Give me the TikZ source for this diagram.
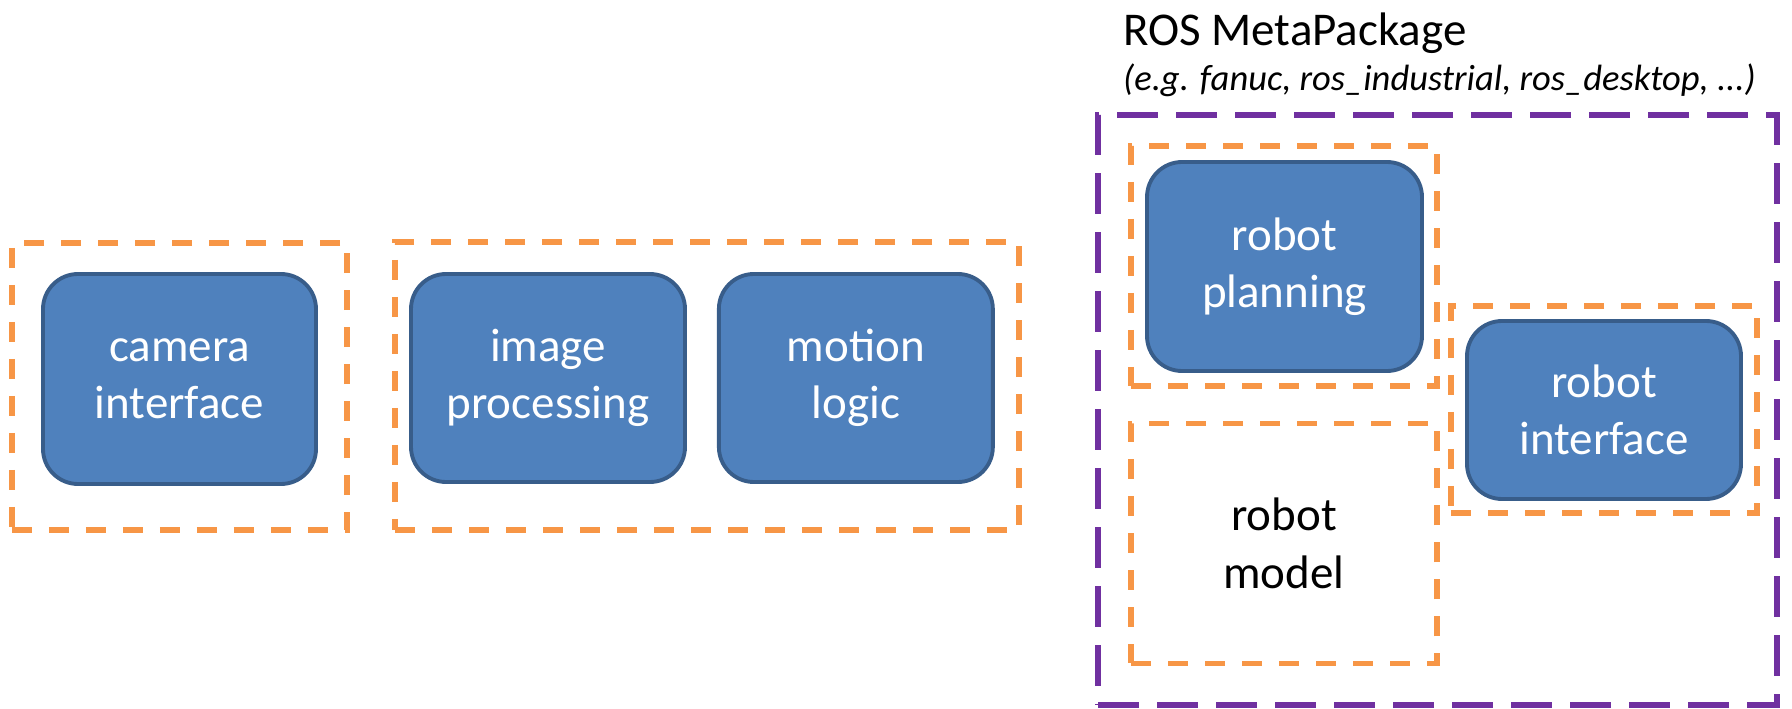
\documentclass[tikz,border=0pt]{standalone}
\usepackage{fontspec}
\setmainfont{Carlito}
\usetikzlibrary{positioning}
\definecolor{nodeblue}{HTML}{4F81BD}
\definecolor{nodeedge}{HTML}{385D8A}
\definecolor{pkgorange}{HTML}{F79646}
\definecolor{metapurple}{HTML}{7030A0}
\begin{document}
\begin{tikzpicture}[node distance=0.6cm,
        main node/.style={rectangle, rounded corners=0.7cm, draw=nodeedge, fill=nodeblue, line width=2.2pt,
            minimum width=5.48cm, minimum height=4.16cm, align=center, text=white,
            font=\fontsize{26.75}{32.6}\selectfont},
        pkg box/.style={rectangle, draw=pkgorange, line width=3pt, dash pattern=on 0.4cm off 0.34cm,
            align=center, font=\fontsize{26.75}{32.6}\selectfont},
        meta box/.style={rectangle, draw=metapurple, line width=3.4pt, dash pattern=on 0.82cm off 0.36cm}]
    \useasboundingbox (0,0) rectangle (35.84,-14.18);
    % packages, left to right
    \node[pkg box, minimum width=6.70cm, minimum height=5.74cm] (campkg) at (3.59,-7.73) {};
    \node[pkg box, minimum width=12.48cm, minimum height=5.76cm] (procpkg) at (14.14,-7.72) {};
    \node[main node, minimum width=5.46cm, minimum height=4.20cm] (camera) at (3.59,-7.58) {camera\\interface};
    \node[main node] (imgproc) at (10.96,-7.56) {image\\processing};
    \node[main node] (motion) [right=of imgproc] {motion\\logic};
    % metapackage
    \node[meta box, minimum width=13.58cm, minimum height=11.80cm] (meta) at (28.75,-8.20) {};
    \node[anchor=base west, font=\fontsize{26.75}{32.6}\selectfont] (metatitle) at (22.34,-0.92) {ROS MetaPackage};
    \node[anchor=base west, font=\fontsize{20.8}{24}\selectfont\itshape] (metanote) at (22.34,-1.82)
        {(e.g. fanuc, ros\_industrial, ros\_desktop, ...)};
    \node[pkg box, minimum width=6.12cm, minimum height=4.80cm] (planpkg) at (25.68,-5.32) {};
    \node[main node, minimum width=5.50cm, minimum height=4.18cm] (planning) at (25.69,-5.33) {robot\\planning};
    \node[pkg box, minimum width=6.12cm, minimum height=4.80cm] (model) [below=0.64cm of planpkg] {robot\\model};
    \node[pkg box, minimum width=6.12cm, minimum height=4.14cm] (ifpkg) at (32.08,-8.19) {};
    \node[main node, minimum height=3.56cm] (robotif) at (32.08,-8.20) {robot\\interface};
\end{tikzpicture}
\end{document}
